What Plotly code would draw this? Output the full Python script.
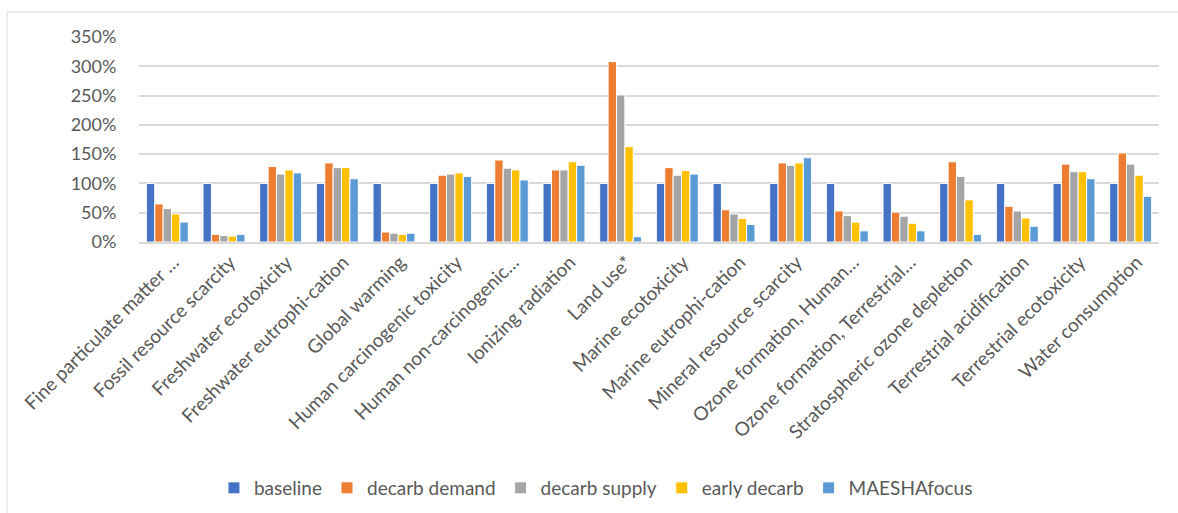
import plotly.graph_objects as go

categories = [
    "Fine particulate matter …",
    "Fossil resource scarcity",
    "Freshwater ecotoxicity",
    "Freshwater eutrophi-cation",
    "Global warming",
    "Human carcinogenic toxicity",
    "Human non-carcinogenic…",
    "Ionizing radiation",
    "Land use*",
    "Marine ecotoxicity",
    "Marine eutrophi-cation",
    "Mineral resource scarcity",
    "Ozone formation, Human…",
    "Ozone formation, Terrestrial…",
    "Stratospheric ozone depletion",
    "Terrestrial acidification",
    "Terrestrial ecotoxicity",
    "Water consumption",
]

# Impact relative to baseline (1.0 = 100%)
baseline = [1.00] * 18
decarb_demand = [0.65, 0.13, 1.29, 1.35, 0.17, 1.14, 1.40, 1.23, 3.08, 1.27,
                 0.55, 1.35, 0.53, 0.51, 1.37, 0.61, 1.33, 1.52]
decarb_supply = [0.57, 0.11, 1.16, 1.27, 0.15, 1.16, 1.26, 1.23, 2.51, 1.14,
                 0.48, 1.31, 0.45, 0.44, 1.12, 0.53, 1.20, 1.33]
early_decarb = [0.48, 0.10, 1.23, 1.27, 0.13, 1.18, 1.23, 1.37, 1.63, 1.22,
                0.40, 1.35, 0.34, 0.32, 0.72, 0.41, 1.20, 1.14]
maesha_focus = [0.34, 0.13, 1.18, 1.08, 0.15, 1.12, 1.06, 1.31, 0.09, 1.16,
                0.30, 1.44, 0.19, 0.19, 0.13, 0.27, 1.08, 0.78]

series = [
    ("baseline", baseline, "#4472C4"),
    ("decarb demand", decarb_demand, "#ED7D31"),
    ("decarb supply", decarb_supply, "#A5A5A5"),
    ("early decarb", early_decarb, "#FFC000"),
    ("MAESHAfocus", maesha_focus, "#5B9BD5"),
]

font_family = "Lato, 'Open Sans', sans-serif"
text_color = "#595959"
grid_color = "#D9D9D9"

fig = go.Figure()
for name, values, color in series:
    fig.add_trace(go.Bar(
        name=name,
        x=categories,
        y=values,
        marker=dict(color=color, line=dict(color="white", width=1)),
    ))

# Outer chart border
fig.add_shape(
    type="rect", xref="paper", yref="paper",
    x0=-0.1294, x1=1.03, y0=1.122, y1=-1.40,
    line=dict(color=grid_color, width=1), fillcolor="rgba(0,0,0,0)",
)

fig.update_layout(
    width=1178,
    height=513,
    margin=dict(l=139, r=19, t=37, b=271, autoexpand=False),
    paper_bgcolor="white",
    plot_bgcolor="white",
    barmode="group",
    bargap=0.26,
    bargroupgap=0,
    font=dict(family=font_family, size=18, color=text_color),
    showlegend=True,
    legend=dict(
        orientation="h",
        x=0.448, xanchor="center",
        y=-1.20, yanchor="middle",
        font=dict(size=19, color=text_color),
        itemwidth=30,
        bgcolor="rgba(0,0,0,0)",
    ),
    xaxis=dict(
        tickangle=-45,
        showgrid=False,
        showline=True,
        linecolor=grid_color,
        linewidth=1.5,
        ticks="",
        ticklabelshift=6,
        tickfont=dict(size=19, color=text_color),
        automargin=False,
    ),
    yaxis=dict(
        range=[0, 3.5],
        dtick=0.5,
        tickformat=".0%",
        showgrid=True,
        gridcolor=grid_color,
        gridwidth=1.5,
        zeroline=False,
        showline=False,
        ticks="outside",
        ticklen=18,
        tickcolor="rgba(0,0,0,0)",
        tickfont=dict(size=18, color=text_color),
        automargin=False,
    ),
)

fig.write_html("out.html")
